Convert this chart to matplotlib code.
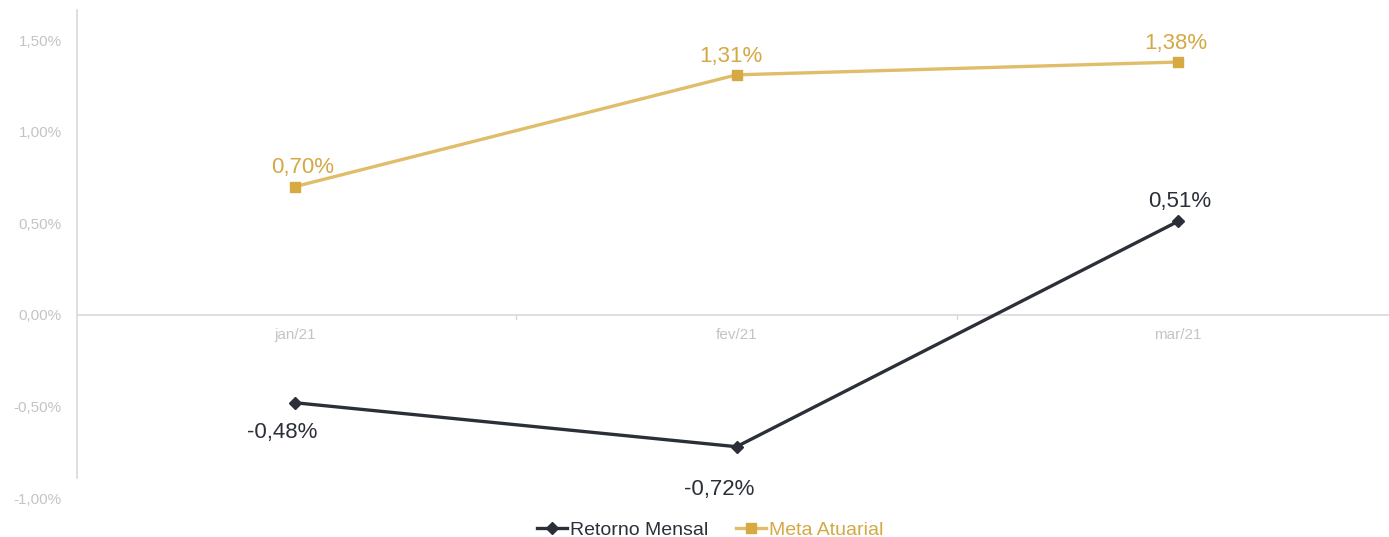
import matplotlib.pyplot as plt
from matplotlib.lines import Line2D

plt.rcParams['font.family'] = ['Liberation Sans', 'DejaVu Sans']

meses = ['jan/21', 'fev/21', 'mar/21']
retorno_mensal = [-0.48, -0.72, 0.51]
meta_atuarial = [0.70, 1.31, 1.38]
y_ticks = [-1.0, -0.5, 0.0, 0.5, 1.0, 1.5]

dark = '#2b3038'
gold = '#e0bd69'
gold_mk = '#d6a942'
gold_txt = '#d4a843'
grey = '#d9d9d9'
tick_grey = '#c4c4c4'


def pct(v):
    return ('%.2f%%' % v).replace('.', ',')


fig = plt.figure(figsize=(13.89, 5.37), dpi=100)
# axes box in pixels: left 77, right 1389, top 10, bottom 498
ax = fig.add_axes([77 / 1389, (537 - 498) / 537, (1389 - 77) / 1389, (498 - 10) / 537])

x = list(range(len(meses)))
ax.plot(x, meta_atuarial, color=gold, lw=2.4, marker='s', ms=7,
        mfc=gold_mk, mec=gold_mk, zorder=3)
ax.plot(x, retorno_mensal, color=dark, lw=2.4, marker='D', ms=6,
        mfc=dark, mec=dark, zorder=3)

# data labels (offsets in points, as in the original)
meta_offsets = [(5.5, 13.5), (-4, 13.5), (-1.5, 13)]
for i, v in enumerate(meta_atuarial):
    ax.annotate(pct(v), (i, v), xytext=meta_offsets[i], textcoords='offset points',
                ha='center', va='center', fontsize=16, color=gold_txt)
ret_offsets = [(-9, -21.5), (-12.5, -31), (1, 14)]
for i, v in enumerate(retorno_mensal):
    ax.annotate(pct(v), (i, v), xytext=ret_offsets[i], textcoords='offset points',
                ha='center', va='center', fontsize=16, color=dark)

ax.set_xlim(-0.494, 2.478)
ax.set_ylim(-1.0, 1.664)

# zero line with category labels under it
ax.axhline(0, color=grey, lw=1.2, zorder=1)
for i, m in enumerate(meses):
    ax.text(i, -0.11, m, ha='center', va='center', fontsize=11, color=tick_grey)
for xm in [0.5, 1.5]:
    ax.plot([xm, xm], [0, -0.025], color=grey, lw=1, zorder=1)

ax.set_xticks([])
ax.set_yticks(y_ticks)
ax.set_yticklabels([pct(t) for t in y_ticks], fontsize=11, color=tick_grey)
ax.tick_params(axis='y', length=0, pad=11)

for s in ['top', 'right', 'bottom']:
    ax.spines[s].set_visible(False)
ax.spines['left'].set_color(grey)
ax.spines['left'].set_linewidth(1.2)
ax.spines['left'].set_bounds(-0.89, 1.664)

handles = [Line2D([], [], color=dark, lw=2.4, marker='D', ms=6),
           Line2D([], [], color=gold, lw=2.4, marker='s', ms=7, mfc=gold_mk, mec=gold_mk)]
leg = fig.legend(handles, ['Retorno Mensal', 'Meta Atuarial'], loc='center',
                 bbox_to_anchor=(710 / 1389, 1 - 530 / 537), ncol=2, frameon=False,
                 fontsize=14, handlelength=1.55, handletextpad=0.15, columnspacing=1.4,
                 borderpad=0)
leg.get_texts()[0].set_color(dark)
leg.get_texts()[1].set_color(gold_txt)

fig.savefig('out.png', dpi=100)
